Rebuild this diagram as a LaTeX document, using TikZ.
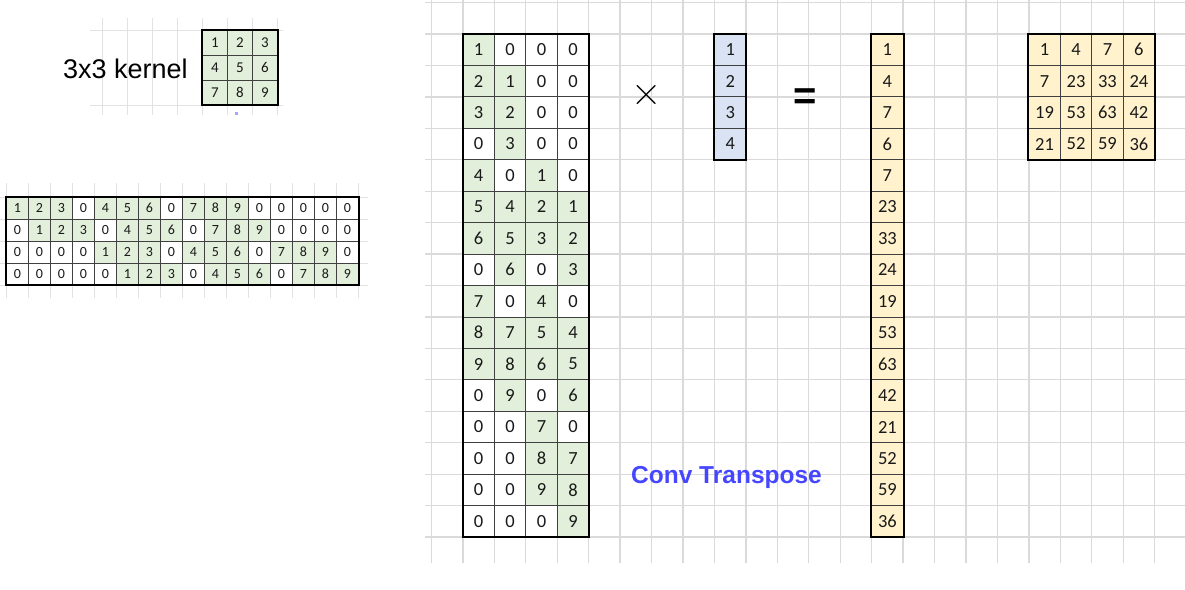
\documentclass[tikz,border=0pt]{standalone}
\usepackage{fontspec}
\setmainfont{Carlito}
\newfontfamily\arial{Liberation Sans}
\newfontfamily\lmr{Latin Modern Roman}
\definecolor{kgreen}{HTML}{E2EFDA}
\definecolor{kblue}{HTML}{DAE3F3}
\definecolor{kyellow}{HTML}{FFF2CC}
\definecolor{gridc}{HTML}{DADADA}
\definecolor{sgridc}{HTML}{E2E2E2}
\definecolor{convblue}{HTML}{4646FF}
\begin{document}
\begin{tikzpicture}[x=1pt,y=-1pt,
  gridline/.style={draw=gridc, line width=1.3pt},
  smallgrid/.style={draw=sgridc, line width=1pt},
  cellbox/.style={draw=black!75, line width=0.8pt, inner sep=0pt, text=black!90},
  bigcell/.style={cellbox, minimum width=31.44pt, minimum height=31.44pt, font=\fontsize{18.5}{18.5}\selectfont},
  kcell/.style={cellbox, minimum width=25pt, minimum height=25pt, font=\fontsize{15}{15}\selectfont},
  scell/.style={cellbox, minimum width=22pt, minimum height=22pt, font=\fontsize{14}{14}\selectfont},
  outer/.style={draw=black, line width=2pt},
]
\useasboundingbox (0,0) rectangle (1185,589);
\fill[white] (0,0) rectangle (1185,589);

% background grids
\foreach \k in {0,...,23} \draw[gridline] ({431.5+31.44*\k},0) -- ({431.5+31.44*\k},563);
\foreach \k in {0,...,17} \draw[gridline] (425,{2.56+31.44*\k}) -- (1185,{2.56+31.44*\k});
\foreach \k in {0,...,16} \draw[smallgrid] ({6.5+22*\k},183) -- ({6.5+22*\k},298);
\foreach \k in {0,...,4} \draw[smallgrid] (0,{197+22*\k}) -- (368,{197+22*\k});
\foreach \k in {0,...,7} \draw[smallgrid] ({102.5+25*\k},18) -- ({102.5+25*\k},115);
\foreach \yy in {30,105} \draw[smallgrid] (90,\yy) -- (283,\yy);
\fill[blue!35] (235,112) rectangle (238,115);

% kernel
\node[anchor=base west, inner sep=0pt, font=\arial\fontsize{27}{27}\selectfont] (kerneltitle) at (63,78) {3x3 kernel};
\foreach \row [count=\i from 0] in {{1,2,3},{4,5,6},{7,8,9}} {
  \foreach \v [count=\j from 0] in \row {
    \node[kcell, fill=kgreen] (K-\i-\j) at ({202.5+25*(\j+0.5)},{30+25*(\i+0.5)}) {\v};
  }
}
\draw[outer] (K-0-0.north west) rectangle (K-2-2.south east);

% 4x16 matrix
\foreach \row [count=\i from 0] in {
  {1,2,3,0,4,5,6,0,7,8,9,0,0,0,0,0},
  {0,1,2,3,0,4,5,6,0,7,8,9,0,0,0,0},
  {0,0,0,0,1,2,3,0,4,5,6,0,7,8,9,0},
  {0,0,0,0,0,1,2,3,0,4,5,6,0,7,8,9}} {
  \foreach \v [count=\j from 0] in \row {
    \ifnum\v=0 \def\cf{white}\else\def\cf{kgreen}\fi
    \node[scell, fill=\cf] (S-\i-\j) at ({6.5+22*(\j+0.5)},{197+22*(\i+0.5)}) {\v};
  }
}
\draw[outer] (S-0-0.north west) rectangle (S-3-15.south east);

% big 16x4 matrix
\foreach \row [count=\i from 0] in {
  {1,0,0,0},{2,1,0,0},{3,2,0,0},{0,3,0,0},
  {4,0,1,0},{5,4,2,1},{6,5,3,2},{0,6,0,3},
  {7,0,4,0},{8,7,5,4},{9,8,6,5},{0,9,0,6},
  {0,0,7,0},{0,0,8,7},{0,0,9,8},{0,0,0,9}} {
  \foreach \v [count=\j from 0] in \row {
    \ifnum\v=0 \def\cf{white}\else\def\cf{kgreen}\fi
    \node[bigcell, fill=\cf] (W-\i-\j) at ({462.94+31.44*(\j+0.5)},{34+31.44*(\i+0.5)}) {\v};
  }
}
\draw[outer] (W-0-0.north west) rectangle (W-15-3.south east);

% vector
\foreach \v [count=\i from 0] in {1,2,3,4} {
  \node[bigcell, fill=kblue] (V-\i) at ({714.46+15.72},{34+31.44*(\i+0.5)}) {\v};
}
\draw[outer] (V-0.north west) rectangle (V-3.south east);

% result column
\foreach \v [count=\i from 0] in {1,4,7,6,7,23,33,24,19,53,63,42,21,52,59,36} {
  \node[bigcell, fill=kyellow] (R-\i) at ({871.66+15.72},{34+31.44*(\i+0.5)}) {\v};
}
\draw[outer] (R-0.north west) rectangle (R-15.south east);

% output 4x4
\foreach \row [count=\i from 0] in {{1,4,7,6},{7,23,33,24},{19,53,63,42},{21,52,59,36}} {
  \foreach \v [count=\j from 0] in \row {
    \node[bigcell, fill=kyellow] (O-\i-\j) at ({1028.86+31.44*(\j+0.5)},{34+31.44*(\i+0.5)}) {\v};
  }
}
\draw[outer] (O-0-0.north west) rectangle (O-3-3.south east);

% operators and label
\node[inner sep=0pt, font=\lmr\fontsize{42}{42}\selectfont] (times) at (647,95) {×};
\node[inner sep=0pt, font=\arial\bfseries\fontsize{40}{40}\selectfont] (equals) at (805,99) {=};
\node[anchor=base west, inner sep=0pt, text=convblue, font=\arial\bfseries\fontsize{24.5}{24.5}\selectfont] (convlabel) at (631,483) {Conv Transpose};
\end{tikzpicture}
\end{document}
